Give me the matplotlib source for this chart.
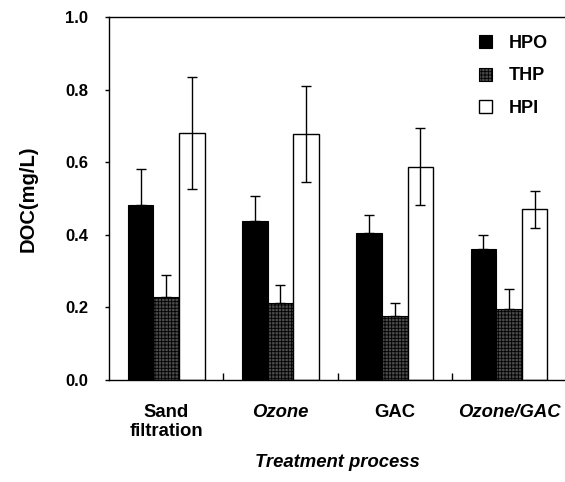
import numpy as np
import matplotlib
matplotlib.use('Agg')
import matplotlib.pyplot as plt

plt.rcParams['font.family'] = ['Liberation Sans', 'DejaVu Sans']
plt.rcParams['hatch.linewidth'] = 0.6

# data
processes = ['Sand\nfiltration', 'Ozone', 'GAC', 'Ozone/GAC']
label_styles = ['normal', 'italic', 'normal', 'italic']
series = ['HPO', 'THP', 'HPI']
hpo = [0.482, 0.439, 0.404, 0.360]
hpo_err = [0.098, 0.068, 0.051, 0.039]
thp = [0.229, 0.211, 0.177, 0.196]
thp_err = [0.059, 0.051, 0.034, 0.054]
hpi = [0.680, 0.677, 0.588, 0.470]
hpi_err = [0.155, 0.132, 0.105, 0.051]

fig = plt.figure(figsize=(5.65, 4.82), dpi=100)
ax = fig.add_axes([0.193, 0.2116, 0.809, 0.7531])

x = np.arange(len(processes))
w = 0.224
ekw = dict(elinewidth=1.0, capthick=1.0, ecolor='black')

ax.bar(x - w, hpo, w, color='black', edgecolor='black', lw=0.8, label='HPO',
       yerr=[np.zeros(4), hpo_err], capsize=3.3, error_kw=ekw, zorder=2)
ax.bar(x, thp, w, color='#4a4a4a', edgecolor='black', hatch='+++++', lw=0.8,
       label='THP', yerr=[np.zeros(4), thp_err], capsize=3.3, error_kw=ekw, zorder=2)
ax.bar(x + w, hpi, w, color='white', edgecolor='black', lw=1.0, label='HPI',
       yerr=hpi_err, capsize=3.3, error_kw=ekw, zorder=2)

ax.set_xlim(-0.5, 3.5)
ax.set_ylim(0, 1.0)
ax.set_yticks(np.arange(0, 1.01, 0.2))
ax.set_yticklabels(['%.1f' % v for v in np.arange(0, 1.01, 0.2)],
                   fontsize=12, fontweight='bold')
ax.set_xticks(x)
ax.set_xticklabels(processes, fontsize=13.3, fontweight='bold')
for t, st in zip(ax.get_xticklabels(), label_styles):
    t.set_fontstyle(st)
ax.set_xticks([0.5, 1.5, 2.5], minor=True)
ax.tick_params(axis='x', which='major', length=0, pad=17)
ax.tick_params(axis='x', which='minor', direction='in', length=5, width=1)
ax.tick_params(axis='y', direction='out', length=3, width=1, pad=12)

for s in ax.spines.values():
    s.set_linewidth(1.0)
ax.spines['right'].set_visible(False)

ax.set_ylabel('DOC(mg/L)', fontsize=14.5, fontweight='bold', labelpad=20)
ax.set_xlabel('Treatment process', fontsize=13.3, fontweight='bold',
              fontstyle='italic', labelpad=10)

leg = ax.legend(loc='upper right', bbox_to_anchor=(0.995, 0.995), frameon=False,
                prop={'size': 13, 'weight': 'bold'}, handlelength=0.75,
                handleheight=0.75, labelspacing=0.85, handletextpad=0.9)

fig.savefig('out.png', dpi=100)
